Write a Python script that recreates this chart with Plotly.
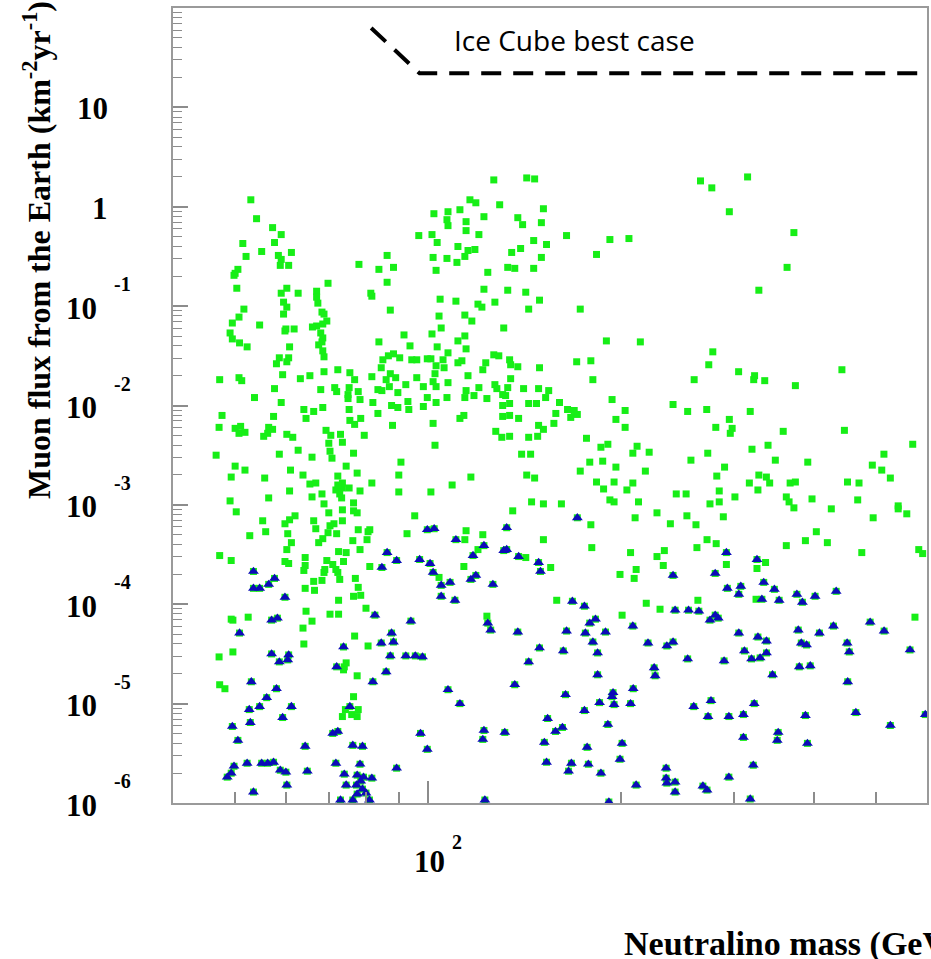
import math
import plotly.graph_objects as go

# Neutralino mass (GeV) and log10 of the muon flux (km^-2 yr^-1) for each model point.
# Models shown only as green squares, below 100 GeV
green_mass_1 = [
    52.9, 54.0, 57.2, 59.0, 51.4, 57.6, 52.0, 55.0, 58.4, 61.2,
    58.8, 60.6, 59.0, 50.5, 50.0, 49.8, 50.3, 96.7, 86.3, 78.0,
    83.8, 88.3, 86.3, 69.8, 60.2, 59.0, 62.7, 67.0, 67.0, 67.3,
    81.4, 81.7, 87.3, 59.5, 60.2, 59.5, 68.3, 68.8, 69.5, 67.0,
    66.0, 68.5, 51.6, 50.7, 49.5, 54.6, 60.0, 61.8, 59.8, 49.1,
    49.5, 50.8, 52.2, 68.0, 68.5, 68.3, 67.5, 68.5, 68.8, 60.8,
    60.6, 58.6, 60.2, 58.0, 91.7, 83.8, 93.7, 86.7, 88.3, 90.3,
    94.3, 96.0, 85.0, 84.5, 87.3, 86.0, 81.7, 89.0, 96.0, 83.5,
    84.7, 87.0, 92.3, 89.7, 98.3, 47.3, 50.7, 51.2, 59.3, 63.2,
    65.4, 68.8, 72.3, 75.5, 76.8, 57.6, 68.0, 71.5, 72.0, 75.3,
    75.0, 77.8, 75.0, 78.3, 53.6, 59.0, 82.0, 87.7, 89.7, 93.0,
    93.3, 83.5, 98.3, 64.0, 66.3, 68.5, 75.3, 75.5, 78.5, 76.8,
    64.5, 47.7, 47.2, 57.4, 50.0, 51.0, 50.7, 51.8, 56.4, 57.2,
    56.2, 55.4, 60.2, 61.5, 69.3, 70.5, 73.0, 73.5, 70.0, 79.5,
    88.0, 46.7, 58.6, 62.7, 65.9, 70.3, 70.8, 76.5, 50.0, 51.8,
    49.3, 55.6, 61.0, 63.8, 74.5, 77.5, 72.3, 90.7, 90.0, 65.4,
    66.8, 73.5, 81.7,
    49.1, 56.4, 60.8, 65.9, 68.3, 68.8, 71.8, 72.8, 73.5, 75.3,
    72.3, 73.3, 76.5, 78.3, 90.0, 50.2, 73.5, 70.0, 76.5, 77.5,
    62.0, 59.8, 60.8, 55.2, 66.3, 73.5, 71.3, 70.3, 66.8, 69.8,
    72.0, 77.8, 81.1, 80.6, 55.8, 52.7, 60.4, 68.5, 67.5, 61.2,
    76.3, 80.3, 95.3, 92.7, 60.2, 72.5, 74.5, 78.3, 47.3, 49.3,
    59.8, 60.6, 64.3, 64.3, 64.0, 69.5, 69.0, 68.8, 71.0, 71.8,
    72.3, 73.8, 81.1, 72.8, 77.0, 68.3, 66.3, 64.3, 66.5, 77.8,
    76.5, 78.5, 72.5, 80.0, 70.3, 72.5, 64.5, 65.9, 63.8, 64.0,
    76.8, 80.6, 52.4, 49.3, 49.6, 47.2, 49.6, 74.0, 73.8, 74.5,
    77.5, 47.3, 48.2, 76.5, 74.3, 73.5, 76.0, 77.8, 77.5,
]
green_logflux_1 = [
    0.07, -0.12, -0.21, -0.28, -0.37, -0.36, -0.50, -0.45, -0.49, -0.46,
    -0.59, -0.59, -0.53, -0.63, -0.67, -0.69, -0.82, -0.29, -0.49, -0.58,
    -0.63, -0.61, -0.76, -0.77, -0.82, -0.87, -0.87, -0.85, -0.91, -0.97,
    -0.87, -0.90, -1.04, -0.96, -1.01, -1.08, -1.06, -1.08, -1.15, -1.20,
    -1.21, -1.18, -1.03, -1.11, -1.17, -1.19, -1.23, -1.23, -1.25, -1.27,
    -1.33, -1.37, -1.41, -1.27, -1.32, -1.36, -1.39, -1.45, -1.51, -1.41,
    -1.52, -1.52, -1.56, -1.58, -1.29, -1.36, -1.40, -1.50, -1.48, -1.52,
    -1.54, -1.54, -1.54, -1.62, -1.68, -1.74, -1.71, -1.72, -1.72, -1.84,
    -1.85, -1.81, -1.79, -1.87, -1.81, -1.74, -1.72, -1.75, -1.69, -1.73,
    -1.70, -1.66, -1.64, -1.67, -1.74, -1.83, -1.84, -1.82, -1.86, -1.82,
    -1.89, -1.86, -1.93, -1.94, -1.92, -1.97, -1.97, -2.00, -2.02, -1.96,
    -2.04, -2.08, -2.01, -2.04, -2.06, -2.02, -2.04, -2.15, -2.13, -2.19,
    -2.13, -2.10, -2.22, -2.11, -2.23, -2.21, -2.28, -2.27, -2.22, -2.24,
    -2.28, -2.31, -2.29, -2.32, -2.25, -2.30, -2.29, -2.37, -2.38, -2.30,
    -2.20, -2.50, -2.49, -2.45, -2.52, -2.46, -2.53, -2.48, -2.61, -2.65,
    -2.72, -2.73, -2.65, -2.70, -2.61, -2.68, -2.71, -2.57, -2.70, -2.79,
    -2.78, -2.78, -2.78,
    -2.96, -2.93, -2.86, -2.92, -2.89, -2.99, -2.85, -2.89, -2.83, -2.83,
    -2.80, -2.93, -2.98, -2.86, -2.87, -3.07, -3.05, -3.08, -3.06, -3.08,
    -3.11, -3.19, -3.15, -3.16, -3.16, -3.16, -3.19, -3.21, -3.24, -3.28,
    -3.29, -3.25, -3.25, -3.27, -3.27, -3.31, -3.29, -3.34, -3.38, -3.38,
    -3.36, -3.35, -3.11, -3.29, -3.45, -3.47, -3.48, -3.45, -3.51, -3.56,
    -3.57, -3.59, -3.53, -3.61, -3.66, -3.56, -3.65, -3.68, -3.60, -3.65,
    -3.68, -3.57, -3.62, -3.75, -3.74, -3.76, -3.77, -3.84, -3.86, -3.83,
    -3.92, -3.91, -3.96, -4.04, -4.10, -4.10, -4.07, -4.17, -4.24, -4.40,
    -4.32, -4.42, -4.13, -4.15, -4.16, -4.53, -4.48, -4.63, -4.66, -4.59,
    -4.72, -4.81, -4.85, -4.93, -5.06, -5.13, -5.11, -5.06, -5.13,
]

# Models shown only as green squares, above 100 GeV
green_mass_2 = [
    126.6, 142.5, 146.6, 116.2, 118.7, 129.3, 151.3, 102.1, 107.4, 112.1,
    107.0, 107.4, 114.6, 122.2, 138.0, 140.4, 150.2, 114.6, 120.0, 101.4,
    103.3, 111.3, 115.4, 118.3, 114.1, 101.8, 107.0, 110.9, 102.9, 123.9,
    135.0, 139.4, 146.1, 153.0, 150.2, 133.1, 136.5, 146.1, 164.4, 183.1,
    192.1, 205.7, 122.2, 133.1, 142.0, 104.4, 110.5, 119.6, 121.3, 127.1,
    149.2, 143.5, 172.7, 104.0, 114.1, 117.0, 104.8, 131.2, 101.4, 114.1,
    111.3, 103.3, 114.6, 189.7, 214.3, 107.4, 99.7, 101.0, 105.5, 102.9,
    105.9, 111.3, 112.9, 123.0, 126.6, 128.9, 134.0, 134.5, 138.0, 121.7,
    149.2, 170.5, 179.4, 102.5, 115.4, 101.8, 107.4, 134.5, 180.7, 102.9,
    114.6, 120.0, 127.1, 128.0, 133.1, 140.9, 148.7, 154.2, 99.7, 102.9,
    107.0, 114.1, 117.9, 123.5, 130.7, 132.1, 130.7, 134.0, 143.5, 147.6,
    152.5, 160.3, 193.6, 241.0, 101.8, 112.1, 113.7, 130.7, 134.0, 138.4,
    165.0, 169.0, 170.9, 166.9, 158.2, 157.1, 148.7, 151.3, 127.5, 130.3,
    134.0, 143.5, 148.2, 196.3, 202.9, 202.9, 102.5, 176.6, 186.0, 190.7,
    211.8, 208.6, 221.2, 139.9, 144.5, 178.7, 187.2, 196.3, 172.7, 218.2,
    116.6, 142.5, 146.6, 183.1, 195.0, 208.6, 109.0,
    266, 277, 315, 295, 372, 363, 328, 278, 274, 305,
    260, 323, 322, 335, 374, 442, 254, 272, 318, 295,
    281, 298, 296, 358, 446, 570, 339, 320, 273, 257,
    348, 391, 514, 493, 510, 526, 290, 282, 328, 337,
    317, 341, 367, 374, 451, 470,
    101.0, 145.0, 151.3, 161.4, 135.5, 187.8, 192.1, 195.0, 204.2, 212.9,
    243.8, 210.3, 227.5, 238.7, 179.4, 180.0, 151.3, 114.6, 114.1, 121.7,
    119.6, 142.0, 155.3, 113.7, 104.0, 206.9, 233.6, 227.5, 232.7, 211.1,
    209.6, 199.2, 158.7, 218.9, 230.0, 200.7, 123.5,
    252.6, 284.5, 275.2, 284.5, 301.0, 326.9, 362.0, 365.6, 372.0, 397.0,
    425.5, 467.8, 541.0, 541.0, 558.0, 494.5, 253.3, 261.7, 288.7, 272.3,
    281.4, 262.6, 362.0, 387.7, 403.2, 419.5, 474.7, 582.5, 590.7, 291.9,
    325.8, 336.0, 263.5, 324.7, 574.6,
]
green_logflux_2 = [
    0.27, 0.29, 0.28, 0.07, 0.04, 0.02, -0.02, -0.07, -0.05, -0.03,
    -0.13, -0.19, -0.15, -0.10, -0.11, -0.18, -0.16, -0.24, -0.28, -0.28,
    -0.36, -0.40, -0.44, -0.43, -0.50, -0.51, -0.52, -0.56, -0.64, -0.66,
    -0.46, -0.42, -0.34, -0.38, -0.51, -0.61, -0.62, -0.62, -0.29, -0.48,
    -0.33, -0.32, -0.83, -0.84, -0.86, -0.93, -0.95, -0.98, -1.01, -0.96,
    -0.94, -1.03, -1.03, -1.10, -1.09, -1.15, -1.22, -1.22, -1.28, -1.30,
    -1.35, -1.41, -1.43, -1.35, -1.36, -1.47, -1.53, -1.53, -1.54, -1.60,
    -1.62, -1.57, -1.55, -1.57, -1.49, -1.50, -1.54, -1.59, -1.61, -1.64,
    -1.62, -1.56, -1.55, -1.68, -1.70, -1.76, -1.77, -1.73, -1.74, -1.81,
    -1.85, -1.82, -1.79, -1.83, -1.82, -1.83, -1.83, -1.85, -1.92, -1.97,
    -1.92, -1.92, -1.90, -1.93, -1.89, -1.90, -2.00, -1.98, -1.98, -1.98,
    -1.92, -1.97, -1.94, -1.99, -2.18, -2.13, -2.10, -2.11, -2.10, -2.13,
    -2.04, -2.05, -2.09, -2.12, -2.08, -2.18, -2.20, -2.24, -2.26, -2.32,
    -2.31, -2.32, -2.31, -2.14, -2.05, -2.22, -2.40, -2.33, -2.42, -2.39,
    -2.41, -2.48, -2.47, -2.49, -2.49, -2.57, -2.56, -2.62, -2.66, -2.66,
    -2.72, -2.70, -2.73, -2.77, -2.77, -2.78, -2.80,
    0.26, 0.19, 0.30, -0.05, -0.26, -0.61, -0.84, -1.46, -1.59, -1.66,
    -1.74, -1.70, -1.74, -1.75, -1.80, -1.64, -2.06, -2.04, -2.06, -2.14,
    -2.22, -2.23, -2.28, -2.26, -2.25, -2.39, -2.40, -2.44, -2.48, -2.55,
    -2.55, -2.57, -2.49, -2.60, -2.65, -2.73, -2.62, -2.71, -2.70, -2.72,
    -2.78, -2.78, -2.78, -2.77, -2.77, -2.78,
    -2.87, -2.97, -2.99, -2.99, -3.06, -2.84, -2.95, -2.97, -2.85, -2.97,
    -2.89, -3.13, -3.08, -3.19, -3.20, -3.43, -3.35, -3.26, -3.35, -3.30,
    -3.45, -3.53, -3.63, -3.62, -3.73, -3.48, -3.46, -3.52, -3.61, -3.65,
    -3.74, -3.70, -3.96, -3.99, -4.05, -4.11, -4.12,
    -2.89, -2.86, -2.99, -2.97, -2.92, -2.85, -2.92, -2.97, -3.03, -2.94,
    -3.04, -2.95, -3.01, -3.04, -3.09, -3.13, -3.11, -3.20, -3.12, -3.35,
    -3.39, -3.43, -3.41, -3.36, -3.27, -3.38, -3.48, -3.45, -3.49, -3.60,
    -3.64, -3.58, -3.96, -3.95, -4.13,
]

# Models drawn as blue triangles (over a green square), below 100 GeV
blue_mass_1 = [
    86.3, 89.3, 97.0, 84.7, 53.4, 57.6, 56.4, 54.6, 53.4, 59.8,
    82.6, 57.0, 58.2, 94.0, 50.8, 87.7, 88.3, 84.5, 73.8, 57.0,
    60.6, 58.6, 60.4, 87.3, 92.3, 95.5, 98.0, 72.0, 86.0, 53.0,
    82.0, 58.0, 56.0, 52.6, 54.6, 61.2, 59.3, 75.5, 52.8, 49.5,
    97.3, 72.3, 71.0, 50.5, 64.3, 76.3, 79.0, 49.8, 52.2, 55.0,
    56.2, 57.4, 58.8, 60.0, 48.6, 49.3, 64.8, 71.8, 78.3, 74.0,
    77.5, 79.3, 81.7, 89.3, 60.2, 74.5, 77.3, 78.5, 79.0, 53.4,
    73.0, 76.3, 77.5, 80.0, 81.0,
]
blue_logflux_1 = [
    -3.48, -3.56, -3.55, -3.63, -3.67, -3.74, -3.80, -3.84, -3.84, -3.93,
    -4.11, -4.16, -4.14, -4.17, -4.29, -4.29, -4.38, -4.39, -4.43, -4.50,
    -4.51, -4.58, -4.56, -4.52, -4.52, -4.52, -4.53, -4.63, -4.68, -4.78,
    -4.78, -4.85, -4.94, -5.06, -5.03, -5.03, -5.14, -5.03, -5.19, -5.23,
    -5.30, -5.28, -5.30, -5.37, -5.43, -5.42, -5.43, -5.63, -5.60, -5.60,
    -5.60, -5.59, -5.67, -5.69, -5.74, -5.70, -5.68, -5.60, -5.61, -5.71,
    -5.72, -5.74, -5.75, -5.65, -5.82, -5.82, -5.82, -5.78, -5.86, -5.89,
    -5.97, -5.97, -5.91, -5.90, -5.97,
]

# Models drawn as blue triangles (over a green square), above 100 GeV
blue_mass_2 = [
    99.7, 102.2, 110.5, 132.6, 170.9, 117.5, 122.2, 131.2, 132.6, 138.4,
    148.7, 149.7, 100.7, 101.8, 118.7, 116.6, 108.2, 104.8, 126.2, 104.8,
    110.1, 241.0, 167.9, 175.3, 242.8, 182.4, 178.7, 123.9, 125.2, 138.0,
    164.4, 175.9, 189.1, 208.6, 180.7, 220.3, 235.7, 241.0, 149.2, 162.5,
    183.8, 143.5, 225.2, 226.0, 183.8, 107.4, 136.5, 208.9, 194.3, 193.6,
    195.0, 206.9, 163.8, 185.1, 112.1, 175.3, 153.6, 190.7, 122.2, 131.7,
    162.0, 158.0, 121.7, 151.8, 99.7, 177.0, 200.7, 153.0, 167.3, 177.8,
    165.6, 186.0, 199.2, 235.1, 235.1, 235.7, 242.8, 211.1, 242.8, 122.6,
    191.4,
    291.9, 325.8, 280.4, 292.9, 307.4, 305.2, 333.8, 346.8, 331.6, 352.8,
    376.0, 383.5, 401.4, 433.0, 254.8, 264.4, 280.4, 275.2, 283.5, 305.2,
    326.9, 337.1, 377.9, 407.7, 428.8, 489.2, 514.3, 382.0, 389.3, 450.4,
    453.8, 564.5, 254.0, 289.5, 311.4, 319.5, 329.5, 337.1, 379.3, 394.5,
    344.5, 451.3, 259.6, 276.2, 273.3, 294.5, 310.3, 322.6, 387.7, 464.7,
    596.3, 526.0, 310.3, 351.6, 350.4, 390.5, 321.5, 294.5, 268.3, 272.3,
    318.0,
]
blue_logflux_2 = [
    -3.25, -3.24, -3.35, -3.23, -3.13, -3.51, -3.41, -3.46, -3.45, -3.52,
    -3.58, -3.67, -3.59, -3.68, -3.71, -3.75, -3.78, -3.81, -3.80, -3.92,
    -3.96, -3.71, -3.97, -4.02, -4.06, -4.15, -4.19, -4.19, -4.26, -4.28,
    -4.27, -4.29, -4.28, -4.22, -4.38, -4.39, -4.42, -4.38, -4.44, -4.47,
    -4.49, -4.58, -4.64, -4.72, -4.71, -4.86, -4.81, -4.85, -4.89, -4.93,
    -5.01, -5.00, -4.91, -4.99, -5.00, -5.07, -5.15, -5.21, -5.27, -5.29,
    -5.24, -5.28, -5.36, -5.39, -5.46, -5.44, -5.40, -5.59, -5.60, -5.61,
    -5.68, -5.70, -5.56, -5.65, -5.75, -5.80, -5.79, -5.82, -5.89, -5.97,
    -5.99,
    -3.48, -3.55, -3.69, -3.84, -3.82, -3.90, -3.78, -3.85, -3.95, -3.96,
    -3.90, -3.98, -3.92, -3.87, -4.06, -4.07, -4.11, -4.16, -4.14, -4.29,
    -4.33, -4.37, -4.26, -4.29, -4.22, -4.18, -4.27, -4.39, -4.41, -4.39,
    -4.48, -4.46, -4.55, -4.57, -4.47, -4.55, -4.54, -4.49, -4.63, -4.62,
    -4.71, -4.78, -5.03, -4.97, -5.13, -5.13, -5.11, -5.00, -5.12, -5.09,
    -5.11, -5.22, -5.34, -5.29, -5.37, -5.40, -5.62, -5.74, -5.83, -5.87,
    -5.96,
]

# IceCube best-case sensitivity curve
icecube_mass = [81.5, 97.0, 600.0]
icecube_flux = [63.0, 22.0, 22.0]

# Axis ticks
flux_decades = [-6, -5, -4, -3, -2, -1, 0, 1]
mass_major = [100]
mass_minor = [50, 60, 70, 80, 90, 200, 300, 400, 500]
mass_range = [40, 600]
flux_range_exp = [-6, 2]


def as_flux(log_values):
    return [10.0 ** v for v in log_values]


blue_mass = blue_mass_1 + blue_mass_2
blue_flux = as_flux(blue_logflux_1 + blue_logflux_2)
square_mass = green_mass_1 + green_mass_2 + blue_mass
square_flux = as_flux(green_logflux_1 + green_logflux_2) + blue_flux

GREEN = "#17ee17"
BLUE = "#0c0cb8"
AXIS_GREY = "#9a9a9a"
SERIF = "Liberation Serif"

fig = go.Figure()
fig.add_trace(go.Scatter(
    x=icecube_mass, y=icecube_flux, mode="lines",
    line=dict(color="black", width=4, dash="20px,12px"),
    hoverinfo="skip", showlegend=False,
))
fig.add_trace(go.Scatter(
    x=square_mass, y=square_flux, mode="markers",
    marker=dict(symbol="square", size=7, color=GREEN, line=dict(width=0)),
    showlegend=False,
))
fig.add_trace(go.Scatter(
    x=blue_mass, y=blue_flux, mode="markers",
    marker=dict(symbol="triangle-up", size=9.5, color=BLUE, line=dict(width=0)),
    showlegend=False,
))

minor_flux = [k * 10.0 ** n for n in flux_decades for k in range(2, 10)]

fig.update_xaxes(
    type="log", range=[math.log10(mass_range[0]), math.log10(mass_range[1])],
    showgrid=False, zeroline=False,
    showline=True, linecolor=AXIS_GREY, linewidth=2, mirror=True,
    ticks="inside", ticklen=22, tickwidth=1.5, tickcolor="#8c8c8c",
    tickvals=mass_major, showticklabels=False,
    minor=dict(ticks="inside", ticklen=11, tickwidth=1.5, tickcolor="#8c8c8c",
               tickvals=mass_minor, showgrid=False),
)
fig.update_yaxes(
    type="log", range=flux_range_exp,
    showgrid=False, zeroline=False,
    showline=True, linecolor=AXIS_GREY, linewidth=2, mirror=True,
    ticks="inside", ticklen=15, tickwidth=1.5, tickcolor="#8c8c8c",
    tickvals=[10.0 ** n for n in flux_decades], showticklabels=False,
    minor=dict(ticks="inside", ticklen=9, tickwidth=1.2, tickcolor="#8c8c8c",
               tickvals=minor_flux, showgrid=False),
)

annotations = []
label_font = dict(family=SERIF, size=31, color="black", weight="bold")
exp_font = dict(family=SERIF, size=20, color="black", weight="bold")

# y tick labels in ROOT style: "10" with a raised exponent
for n in flux_decades:
    if n == 0:
        annotations.append(dict(text="1", xref="paper", x=0, xanchor="right", xshift=-63,
                                yref="y", y=n, yanchor="middle", yshift=-2,
                                showarrow=False, font=label_font))
    elif n == 1:
        annotations.append(dict(text="10", xref="paper", x=0, xanchor="right", xshift=-63,
                                yref="y", y=n, yanchor="middle", yshift=-1,
                                showarrow=False, font=label_font))
    else:
        annotations.append(dict(text="10", xref="paper", x=0, xanchor="right", xshift=-74,
                                yref="y", y=n, yanchor="middle", yshift=-2,
                                showarrow=False, font=label_font))
        annotations.append(dict(text=str(n), xref="paper", x=0, xanchor="left", xshift=-61,
                                yref="y", y=n, yanchor="middle", yshift=22,
                                showarrow=False, font=exp_font))

# x tick label 10^2
for m in mass_major:
    e = int(round(math.log10(m)))
    annotations.append(dict(text="10", xref="x", x=math.log10(m), xanchor="center", xshift=1,
                            yref="paper", y=0, yanchor="middle", yshift=-58,
                            showarrow=False, font=label_font))
    annotations.append(dict(text=str(e), xref="x", x=math.log10(m), xanchor="left", xshift=22,
                            yref="paper", y=0, yanchor="middle", yshift=-39,
                            showarrow=False, font=exp_font))

# axis titles
annotations.append(dict(
    text="Muon flux from the Earth (km<sup>-2</sup>yr<sup>-1</sup>)",
    xref="paper", x=0, xanchor="center", xshift=-136,
    yref="paper", y=0.6956, yanchor="middle",
    textangle=-90, showarrow=False,
    font=dict(family=SERIF, size=32, color="black", weight="bold"),
))
annotations.append(dict(
    text="Neutralino mass (GeV)",
    xref="paper", x=0, xanchor="left", xshift=449,
    yref="paper", y=0, yanchor="middle", yshift=-141,
    showarrow=False,
    font=dict(family=SERIF, size=34, color="black", weight="bold"),
))

# curve label
annotations.append(dict(
    text="Ice Cube best case",
    xref="paper", x=0.370, xanchor="left",
    yref="paper", y=0.960, yanchor="middle",
    showarrow=False,
    font=dict(family="Open Sans", size=28, color="black"),
))

fig.update_layout(
    width=931, height=959,
    margin=dict(l=173, r=2, t=8, b=156),
    paper_bgcolor="white", plot_bgcolor="white",
    showlegend=False,
    annotations=annotations,
)

fig.write_html("out.html")
